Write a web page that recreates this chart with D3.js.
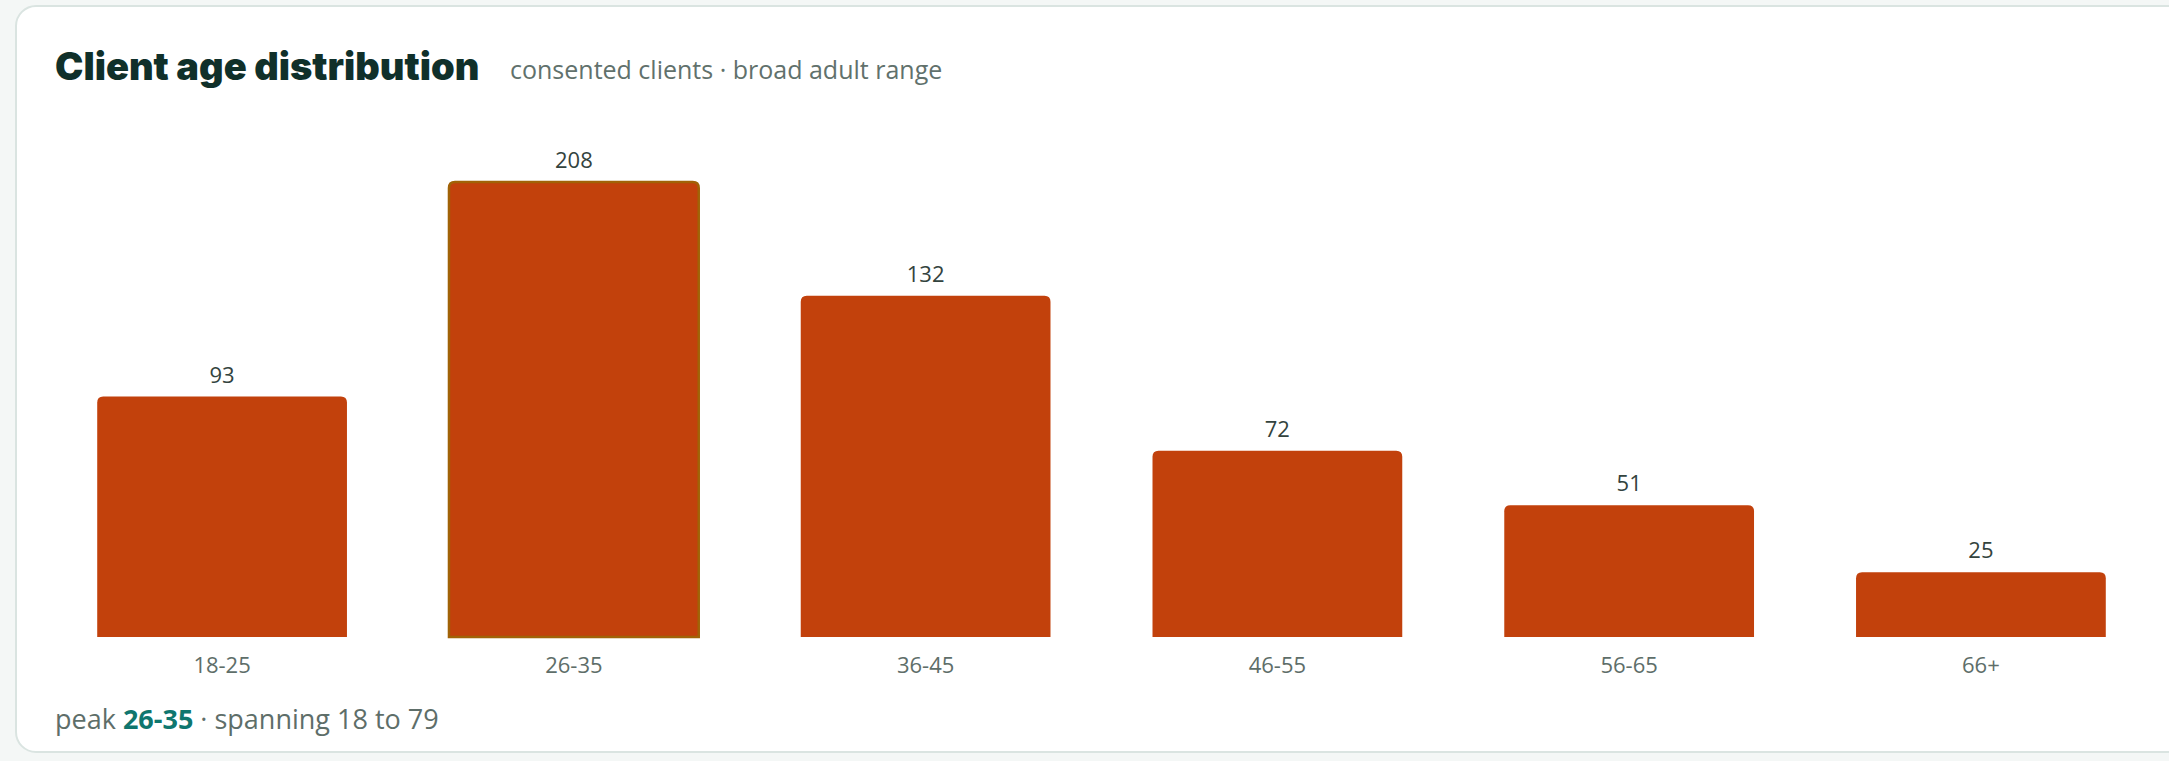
<html>
<head>
<meta charset="utf-8">
<script src="https://cdn.jsdelivr.net/npm/d3@7"></script>
<style>
  body { margin: 0; background: #f4f7f6; overflow: hidden; }
  svg { display: block; }
  text { font-family: "Open Sans", "Noto Sans", sans-serif; }
</style>
</head>
<body>
<svg width="2169" height="761"></svg>
<script>
// age buckets and client counts
var ageGroups = ['18-25', '26-35', '36-45', '46-55', '56-65', '66+'];
var clients = [93, 208, 132, 72, 51, 25];
var ageSpan = [18, 79];
var yMax = 176;   // axis is capped, tallest bar is clipped at the top

var svg = d3.select("svg");

// card
svg.append("rect")
   .attr("x", 16).attr("y", 6)
   .attr("width", 2230).attr("height", 746)
   .attr("rx", 20)
   .attr("fill", "white")
   .attr("stroke", "#dae4e1")
   .attr("stroke-width", 2);

svg.append("text")
   .attr("x", 55).attr("y", 80)
   .attr("font-size", "38px")
   .attr("font-weight", 900)
   .attr("fill", "#10302a")
   .style("font-family", "Inter, 'Noto Sans', sans-serif")
   .text("Client age distribution");

svg.append("text")
   .attr("x", 510).attr("y", 79)
   .attr("font-size", "25px")
   .attr("fill", "#61716c")
   .text("consented clients · broad adult range");

var x = d3.scaleBand().domain(ageGroups).range([55, 2148])
          .paddingInner(0.29).paddingOuter(0.12);
var y = d3.scaleLinear().domain([0, yMax]).range([637, 182]).clamp(true);

var peak = d3.maxIndex(clients);
var r = 6;

function barPath(d, i) {
  var x0 = x(ageGroups[i]), x1 = x0 + x.bandwidth();
  var y0 = y(0), y1 = y(d);
  return "M" + x0 + "," + y0 +
         "V" + (y1 + r) +
         "Q" + x0 + "," + y1 + " " + (x0 + r) + "," + y1 +
         "H" + (x1 - r) +
         "Q" + x1 + "," + y1 + " " + x1 + "," + (y1 + r) +
         "V" + y0 + "Z";
}

var g = svg.append("g");
g.selectAll("path.bar").data(clients)
  .enter().append("path")
  .attr("class", "bar")
  .attr("d", barPath)
  .attr("fill", "#c2410c")
  .attr("stroke", function(d, i) { return i === peak ? "#a16207" : "none"; })
  .attr("stroke-width", 2.5);

g.selectAll("text.val").data(clients)
  .enter().append("text")
  .attr("class", "val")
  .attr("x", function(d, i) { return x(ageGroups[i]) + x.bandwidth() / 2; })
  .attr("y", function(d) { return y(d) - 14; })
  .attr("text-anchor", "middle")
  .attr("font-size", "22px")
  .attr("fill", "#33433e")
  .text(function(d) { return d; });

// category axis, no line or ticks
var ax = svg.append("g")
  .attr("transform", "translate(0," + y(0) + ")")
  .call(d3.axisBottom(x).tickSize(0).tickPadding(20));
ax.select(".domain").remove();
ax.selectAll("text")
  .attr("font-size", "22px")
  .attr("fill", "#5e6e69")
  .style("font-family", "'Open Sans', sans-serif");

var foot = svg.append("text")
  .attr("x", 55).attr("y", 729)
  .attr("font-size", "27px")
  .attr("fill", "#5e6e69");
foot.append("tspan").text("peak ");
foot.append("tspan").attr("font-weight", 700).attr("fill", "#0f766e").text(ageGroups[peak]);
foot.append("tspan").text(" · spanning " + ageSpan[0] + " to " + ageSpan[1]);
</script>
</body>
</html>
